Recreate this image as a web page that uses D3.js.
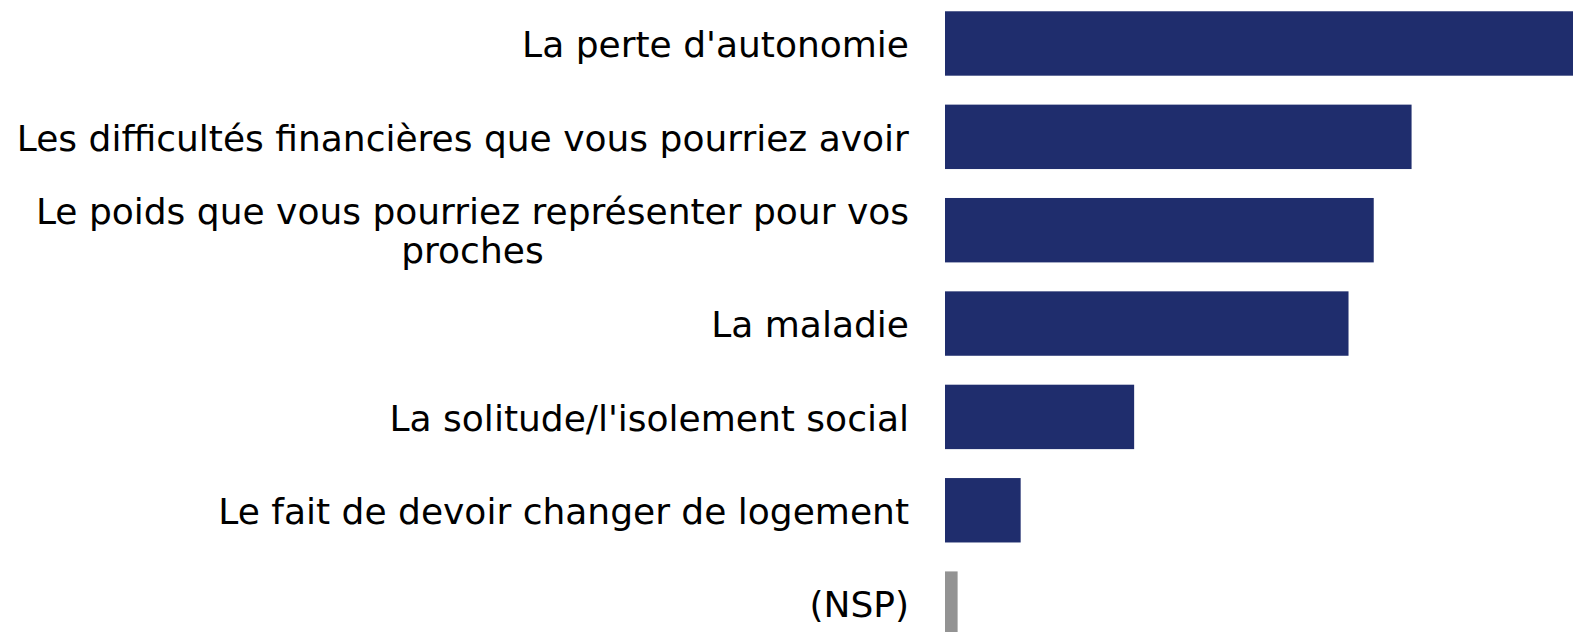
<!DOCTYPE html>
<html>
<head>
<meta charset="utf-8">
<script src="https://cdn.jsdelivr.net/npm/d3@7"></script>
<style>
  body { margin: 0; background: #fff; }
  svg { display: block; }
</style>
</head>
<body>
<div class="main-area"></div>
<script>
// categories and values (%)
const labels = [
  ["La perte d'autonomie"],
  ["Les difficultés financières que vous pourriez avoir"],
  ["Le poids que vous pourriez représenter pour vos", "proches"],
  ["La maladie"],
  ["La solitude/l'isolement social"],
  ["Le fait de devoir changer de logement"],
  ["(NSP)"]
];
const values = [54, 37, 34, 32, 15, 6, 1];
const barColors = ["#1f2d6d", "#1f2d6d", "#1f2d6d", "#1f2d6d", "#1f2d6d", "#1f2d6d", "#939393"];

const width = 1573;
const height = 632;

const svg = d3.select('.main-area')
  .append('svg')
  .attr('width', width)
  .attr('height', height);

const x = d3.scaleLinear()
  .domain([0, 50])
  .range([945, 945 + 50 * 12.61]);

const y = d3.scaleBand()
  .domain(d3.range(labels.length))
  .range([-3.2, 650.3])
  .paddingInner(0.31)
  .paddingOuter(0.155);

svg.append('g')
  .selectAll('rect')
  .data(values)
  .join('rect')
  .attr('x', x(0))
  .attr('y', (d, i) => y(i))
  .attr('width', d => x(d) - x(0))
  .attr('height', y.bandwidth())
  .attr('fill', (d, i) => barColors[i]);

const lineGap = 39;
const labelG = svg.append('g')
  .attr('font-family', 'DejaVu Sans, sans-serif')
  .attr('font-size', 36)
  .attr('fill', '#000');

labels.forEach((lines, i) => {
  const cy = y(i) + y.bandwidth() / 2;
  const t = labelG.append('text')
    .attr('text-anchor', 'middle')
    .attr('y', cy - (lines.length - 1) * lineGap / 2);
  t.selectAll('tspan')
    .data(lines)
    .join('tspan')
    .attr('dy', (d, j) => j === 0 ? '0.38em' : lineGap)
    .attr('x', 0)
    .text(d => d);
  // right align the block, centre the lines within it
  const w = t.node().getBBox().width;
  t.attr('transform', `translate(${909 - w / 2},0)`);
});
</script>
</body>
</html>
